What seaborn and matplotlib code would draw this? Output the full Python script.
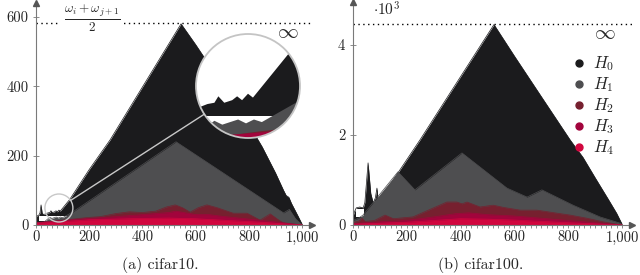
import matplotlib
matplotlib.use("Agg")
import matplotlib.pyplot as plt
import seaborn as sns
import pandas as pd
from matplotlib.patches import Circle, Ellipse
from matplotlib.lines import Line2D

# cifar10 curves (breakpoints)
c10_h0_x = [0, 10, 15, 19, 23, 28, 35, 45, 52, 56, 62, 70, 75, 80, 86, 91, 127, 200, 278, 545,
            600, 700, 800, 850, 900, 930, 940, 950, 960, 985, 1000]
c10_h0_y = [25, 28, 35, 58, 35, 30, 32, 35, 36, 41, 36, 38, 41, 38, 43, 40, 74, 160, 245, 580,
            520, 405, 290, 225, 150, 100, 85, 80, 62, 25, 2]
c10_h1_x = [0, 30, 45, 52, 60, 68, 76, 84, 92, 100, 139, 526, 930, 952, 975, 1000]
c10_h1_y = [5, 8, 18, 22, 19, 21, 23, 20, 23, 21, 38, 240, 35, 45, 18, 0]
c10_h2_x = [0, 40, 100, 150, 200, 241, 300, 350, 400, 450, 490, 523, 550, 579, 610,
            642, 680, 741, 793, 842, 880, 905, 929, 960, 1000]
c10_h2_y = [6, 8, 14, 18, 22, 24, 33, 38, 36, 40, 52, 58, 50, 37, 50,
            58, 50, 34, 34, 14, 32, 18, 6, 3, 0]
c10_h3_x = [0, 100, 200, 300, 400, 500, 525, 600, 650, 700, 800, 900, 1000]
c10_h3_y = [7, 13, 19, 24, 30, 36, 40, 30, 30, 25, 17, 9, 0]
c10_h4_x = [0, 100, 200, 300, 400, 500, 600, 700, 800, 900, 1000]
c10_h4_y = [5, 10, 15, 17, 19, 20, 18, 14, 10, 5, 0]
c10_gap_x = [10, 115]
c10_gap_lo = [12, 12]
c10_gap_hi = [25.5, 25.5]

# cifar100 curves
c100_h0_x = [0, 6, 12, 25, 38, 44, 56, 66, 75, 83, 89, 94, 100, 249, 524,
             600, 700, 807, 855, 900, 950, 980, 1000]
c100_h0_y = [200, 300, 380, 400, 380, 500, 1380, 700, 490, 600, 820, 520, 560, 1890, 4450,
             3750, 2850, 1890, 1500, 1050, 560, 260, 20]
c100_h1_x = [0, 20, 37, 167, 230, 405, 572, 647, 702, 818, 918, 993, 1000]
c100_h1_y = [100, 150, 220, 1180, 780, 1600, 820, 620, 780, 440, 180, 40, 0]
c100_h2_x = [0, 20, 33, 45, 80, 119, 150, 223, 280, 349, 386, 405, 424, 472, 521,
             560, 621, 683, 750, 807, 870, 930, 1000]
c100_h2_y = [60, 80, 150, 80, 100, 220, 140, 180, 330, 510, 510, 470, 510, 400, 440,
             390, 330, 330, 270, 220, 150, 70, 0]
c100_h3_x = [0, 50, 100, 200, 300, 380, 430, 500, 600, 700, 800, 900, 1000]
c100_h3_y = [30, 50, 70, 100, 180, 250, 270, 230, 200, 150, 100, 50, 0]
c100_h4_x = [0, 100, 200, 300, 400, 500, 600, 700, 800, 900, 1000]
c100_h4_y = [20, 40, 60, 100, 140, 130, 110, 80, 50, 25, 0]
c100_gap_x = [10, 42]
c100_gap_lo = [180, 180]
c100_gap_hi = [360, 360]

labels = ["$H_0$", "$H_1$", "$H_2$", "$H_3$", "$H_4$"]
colors = ["#1b1b1d", "#4e4e50", "#76202f", "#a2043c", "#d1063e"]

sns.set_style("ticks")
plt.rcParams["font.family"] = ["cmr10", "DejaVu Serif"]
plt.rcParams["mathtext.fontset"] = "cm"
plt.rcParams["axes.unicode_minus"] = False

W, H = 640, 275
fig = plt.figure(figsize=(6.4, 2.75), dpi=100)
ax1 = fig.add_axes([36 / W, 1 - 225 / H, 276 / W, 222 / H])
ax2 = fig.add_axes([353 / W, 1 - 225 / H, 279 / W, 223 / H])


def draw(ax, series, gap, edges=True):
    for i, (xs, ys) in enumerate(series):
        ax.fill_between(xs, 0, ys, color=colors[i], lw=0, zorder=1 + i)
        if edges:
            df = pd.DataFrame({"x": xs, "y": ys})
            sns.lineplot(data=df, x="x", y="y", ax=ax, color=colors[i], lw=0.5,
                         estimator=None, zorder=1 + i)
        if i == 0:
            gx, glo, ghi = gap
            ax.fill_between(gx, glo, ghi, color="white", lw=0, zorder=1.5)


c10 = [(c10_h0_x, c10_h0_y), (c10_h1_x, c10_h1_y), (c10_h2_x, c10_h2_y),
       (c10_h3_x, c10_h3_y), (c10_h4_x, c10_h4_y)]
c100 = [(c100_h0_x, c100_h0_y), (c100_h1_x, c100_h1_y), (c100_h2_x, c100_h2_y),
        (c100_h3_x, c100_h3_y), (c100_h4_x, c100_h4_y)]
draw(ax1, c10, (c10_gap_x, c10_gap_lo, c10_gap_hi))
draw(ax2, c100, (c100_gap_x, c100_gap_lo, c100_gap_hi))

axis_col = "#7a7a7a"


def style(ax, ymax, yticks, ylabels):
    ax.set_xlim(0, 1037)
    ax.set_ylim(0, ymax)
    ax.set_xlabel("")
    ax.set_ylabel("")
    for s in ["top", "right"]:
        ax.spines[s].set_visible(False)
    for s in ["left", "bottom"]:
        ax.spines[s].set_color(axis_col)
        ax.spines[s].set_linewidth(0.8)
        ax.spines[s].set_zorder(20)
    ax.set_xticks(range(0, 1001, 200))
    ax.set_xticklabels(["0", "200", "400", "600", "800", "1,000"])
    ax.set_xticks(range(0, 1001, 20), minor=True)
    ax.tick_params(axis="x", which="both", direction="out", length=2, width=0.6,
                   color=axis_col, labelsize=10.5, pad=2)
    ax.set_yticks(yticks)
    ax.set_yticklabels(ylabels)
    ax.tick_params(axis="y", direction="inout", length=5, width=0.6,
                   color=axis_col, labelsize=10.5, pad=3)
    ax.plot([1], [0], marker=">", color="#555555", ms=4, transform=ax.transAxes,
            clip_on=False, zorder=21)
    ax.plot([0], [1], marker="^", color="#555555", ms=4, transform=ax.transAxes,
            clip_on=False, zorder=21)
    ax.grid(False)


style(ax1, 640, [0, 200, 400, 600], ["0", "200", "400", "600"])
style(ax2, 4950, [0, 2000, 4000], ["0", "2", "4"])

# dotted upper bounds
ax1.axhline(582, ls=(0, (1, 2.5)), color="black", lw=1, zorder=8)
ax2.axhline(4460, ls=(0, (1, 2.5)), color="black", lw=1, zorder=8)
ax1.text(210, 598, r"$\frac{\omega_i+\omega_{j+1}}{2}$", fontsize=13.5, ha="center",
         va="center", zorder=9,
         bbox=dict(fc="white", ec="none", pad=3))
ax1.text(947, 552, r"$\infty$", fontsize=15, ha="center", va="center", zorder=9)
ax2.text(937, 4230, r"$\infty$", fontsize=15, ha="center", va="center", zorder=9)
ax2.text(0.07, 0.965, r"$\cdot 10^3$", transform=ax2.transAxes, fontsize=11,
         ha="left", va="center")

# legend
handles = [Line2D([], [], marker="o", ls="none", color=c, ms=5) for c in colors]
leg = ax2.legend(handles, labels, loc="upper left", bbox_to_anchor=(0.77, 0.795),
                 frameon=False, handlelength=0.6, handletextpad=0.5,
                 labelspacing=0.13, fontsize=12, borderaxespad=0)
leg.set_zorder(30)

# captions
fig.text(160 / W, 1 - 265 / H, "(a) cifar10.", ha="center", va="center", fontsize=11.5)
fig.text(481 / W, 1 - 265 / H, "(b) cifar100.", ha="center", va="center", fontsize=11.5)

# magnifier on cifar10
cx, cy = 86, 49
r_small, r_big = 14, 52
big_c = (248, 86)
sx = 276 / 1037
sy = 222 / 640
ax1.add_patch(Ellipse((cx, cy), 2 * r_small / sx, 2 * r_small / sy, fc="none",
                      ec="#c8c8c8", lw=1, zorder=15))

ins = fig.add_axes([(big_c[0] - r_big) / W, 1 - (big_c[1] + r_big) / H,
                    2 * r_big / W, 2 * r_big / H])
ins.set_xlim(cx - r_small / sx, cx + r_small / sx)
ins.set_ylim(cy - r_small / sy, cy + r_small / sy)
ins.patch.set_visible(False)
ins.add_patch(Circle((0.5, 0.5), 0.5, transform=ins.transAxes, fc="white",
                     ec="none", zorder=0))
draw(ins, c10, (c10_gap_x, c10_gap_lo, c10_gap_hi), edges=False)
ins.axis("off")
clip = Circle((0.5, 0.5), 0.5, transform=ins.transAxes)
for a in ins.collections + ins.lines + ins.patches:
    a.set_clip_path(clip)
ins.add_patch(Circle((0.5, 0.5), 0.5, transform=ins.transAxes, fc="none",
                     ec="#c4c4c4", lw=1.3, zorder=10, clip_on=False))

# connector line between the two circles
sxp, syp = 36 + sx * cx, 225 - sy * cy
dx, dy = big_c[0] - sxp, big_c[1] - syp
d = (dx ** 2 + dy ** 2) ** 0.5
ux, uy = dx / d, dy / d
p1 = (sxp + ux * r_small, syp + uy * r_small)
p2 = (big_c[0] - ux * r_big, big_c[1] - uy * r_big)
fig.add_artist(Line2D([p1[0] / W, p2[0] / W], [1 - p1[1] / H, 1 - p2[1] / H],
                      transform=fig.transFigure, color="#c8c8c8", lw=1))

fig.savefig("out.png", dpi=100)
